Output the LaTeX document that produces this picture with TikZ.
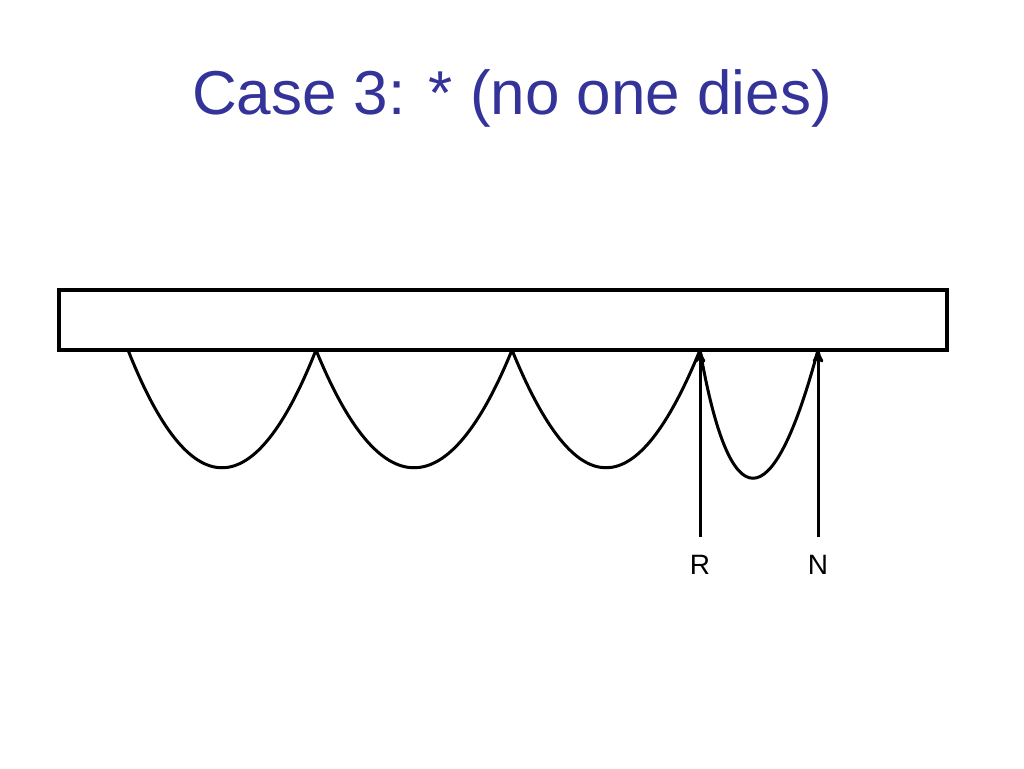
\documentclass[tikz,border=0pt]{standalone}
\usepackage{fontspec}
\setmainfont{Liberation Sans}
\usetikzlibrary{arrows}
\definecolor{titleblue}{RGB}{51,51,153}
\begin{document}
\begin{tikzpicture}[
    x=1pt, y=-1pt,
    line width=3.5pt,
    >=stealth',
    loop/.style = {line width=3pt},
    label/.style = {font=\fontsize{28}{30}\selectfont}
  ]
  \useasboundingbox (0,0) rectangle (1024,768);
  \node[text=titleblue, font=\fontsize{62}{68}\selectfont] (title) at (512,98) {Case 3: * (no one dies)};
  \draw (59,290) rectangle (947,350);
  % loops under the bar
  \draw[loop] (128,350) .. controls (190,507) and (254,507) .. (316,350);
  \draw[loop] (316,350) .. controls (380,507) and (448,507) .. (512,350);
  \draw[loop] (512,350) .. controls (576,507) and (636,507) .. (700,350);
  \draw[loop] (700,350) .. controls (730,521) and (772,521) .. (818,350);
  % pointers
  \coordinate (Rtop) at (700,350);
  \coordinate (Ntop) at (818,350);
  \node[label] (R) at (700,565) {R};
  \node[label] (N) at (818,565) {N};
  \draw[->, line width=3pt] (700,537) -- (Rtop);
  \draw[->, line width=3pt] (818,537) -- (Ntop);
\end{tikzpicture}
\end{document}
